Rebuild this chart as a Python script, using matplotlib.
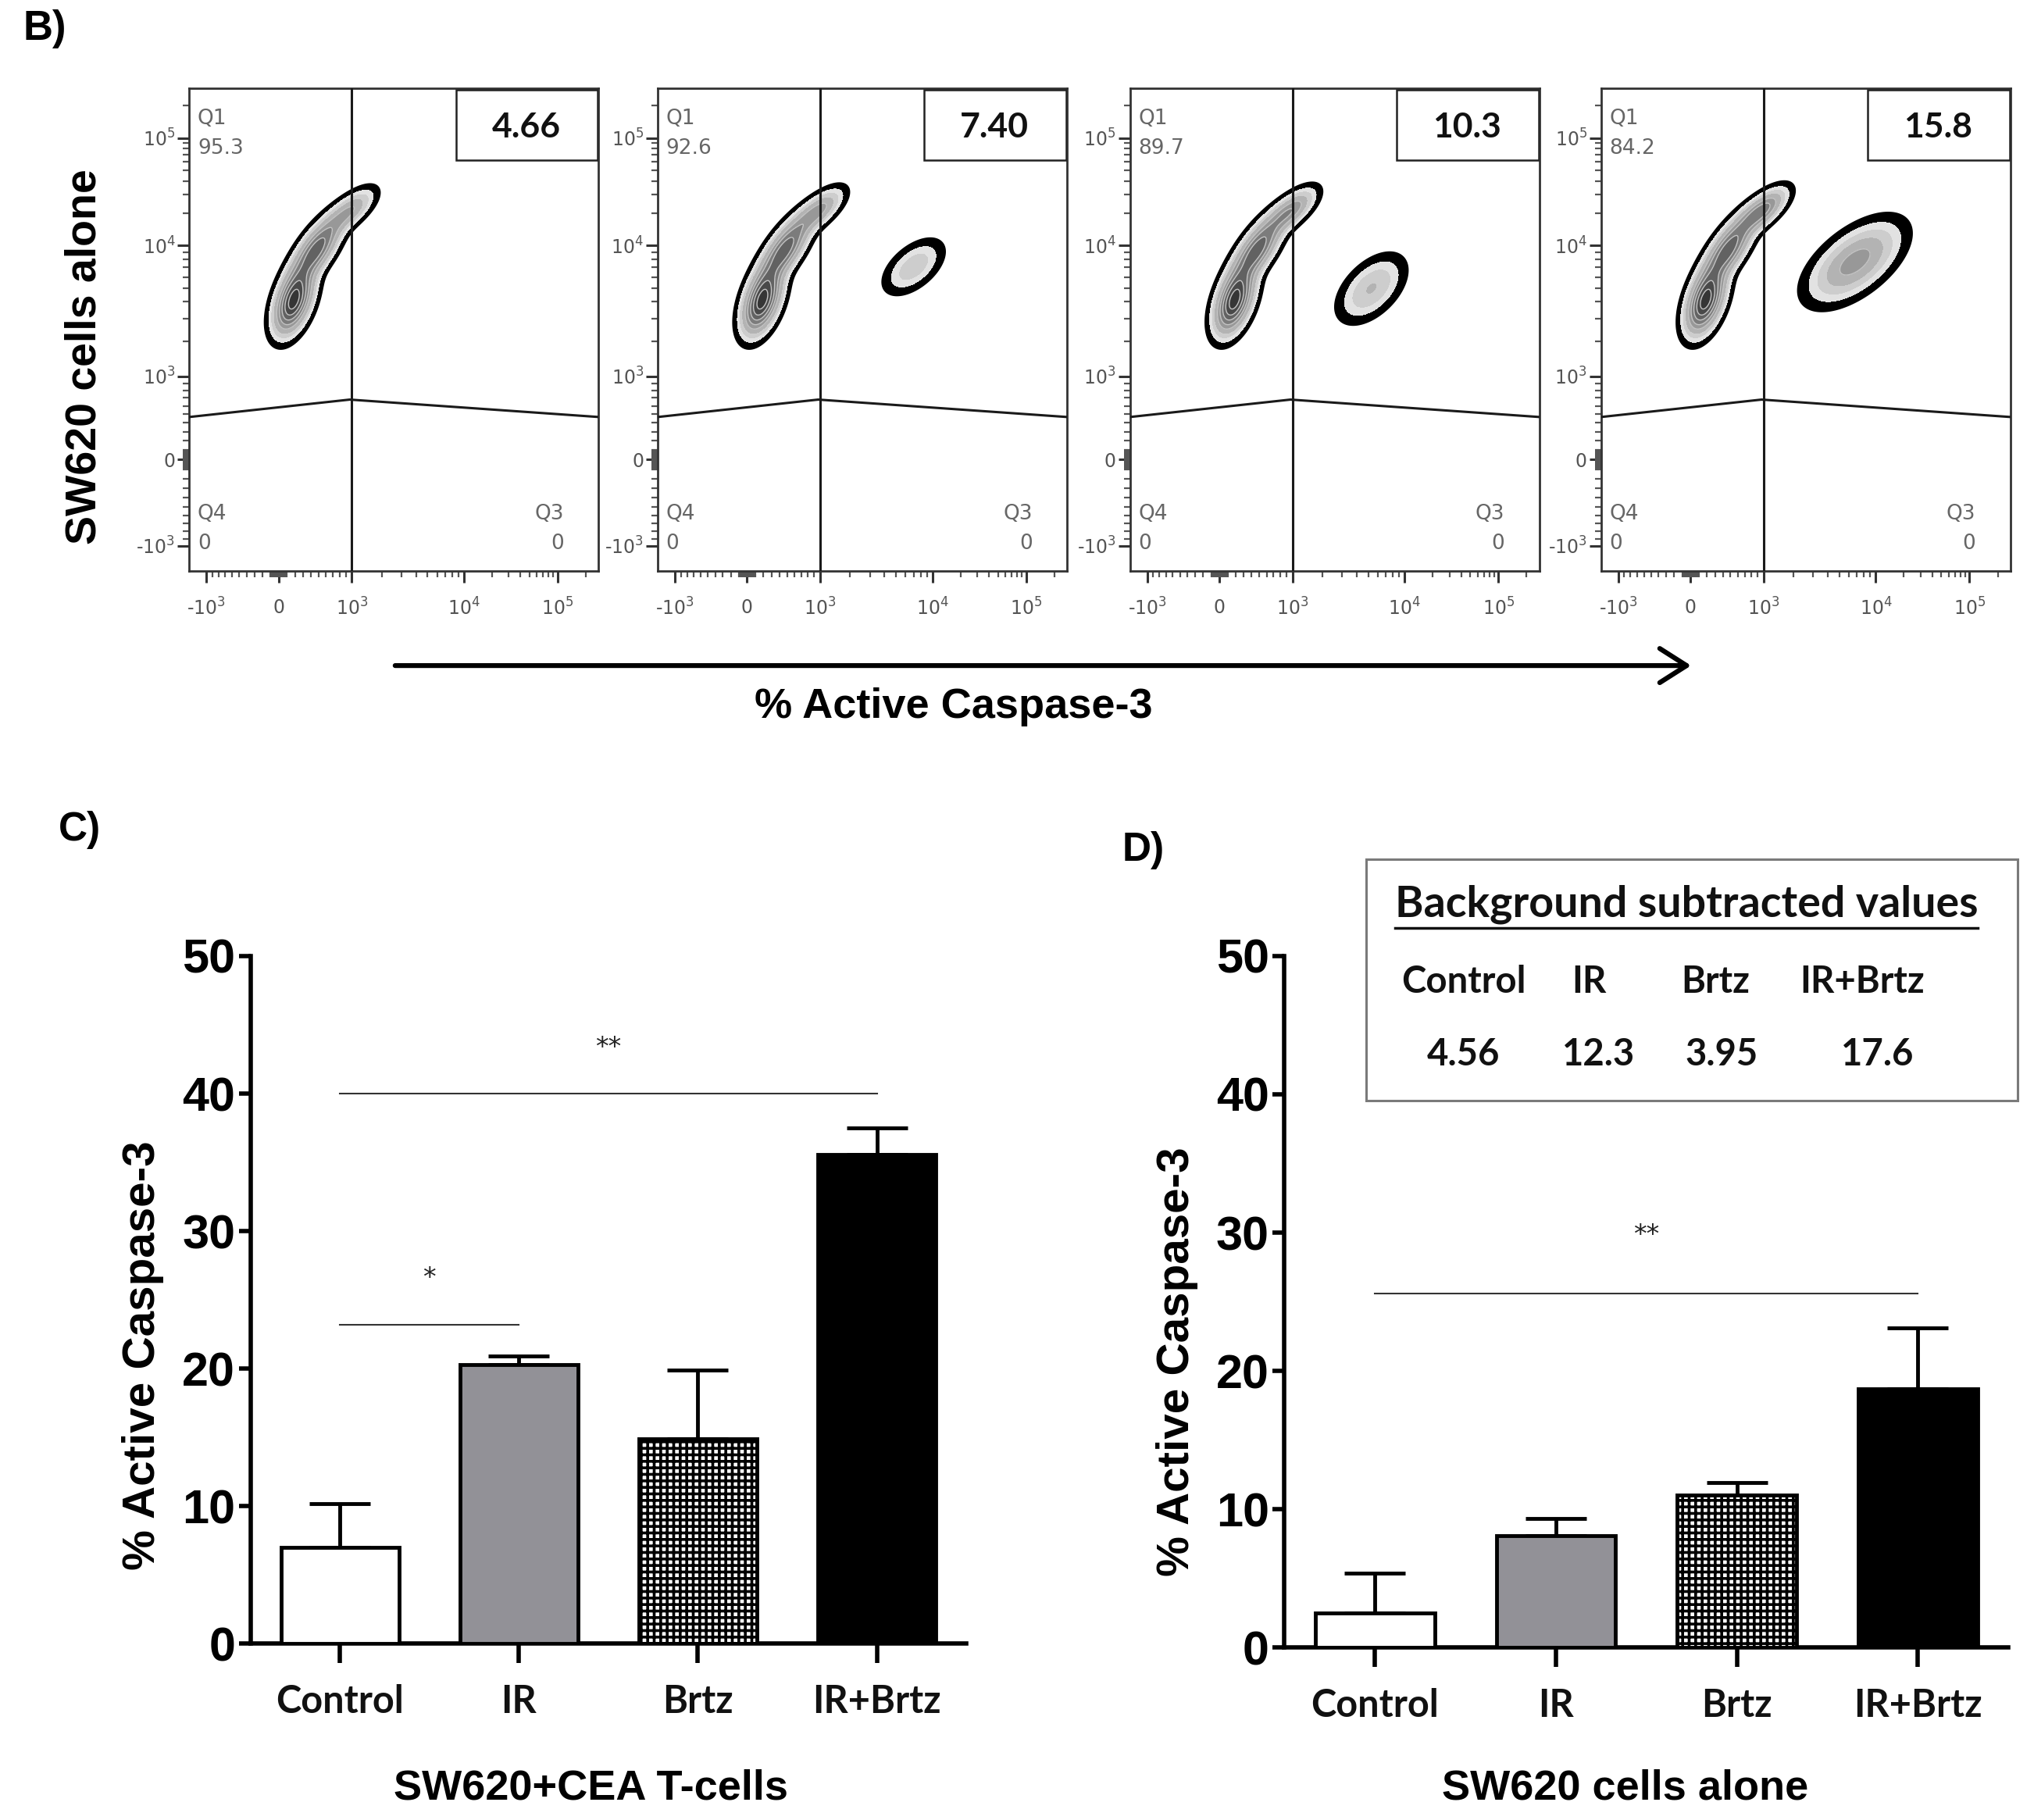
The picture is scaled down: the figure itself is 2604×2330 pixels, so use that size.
import numpy as np
import matplotlib
matplotlib.use('Agg')
import matplotlib.pyplot as plt
from matplotlib.patches import Rectangle, FancyArrowPatch
from matplotlib.lines import Line2D
from matplotlib.ticker import FixedLocator, FixedFormatter

# ---------------- data ----------------
groups = ['Control', 'IR', 'Brtz', 'IR+Brtz']

# panel C: SW620 + CEA T-cells
c_means = [7.0, 20.3, 14.9, 35.6]
c_err = [3.2, 0.6, 5.0, 1.9]
# panel D: SW620 cells alone
d_means = [2.5, 8.1, 11.0, 18.7]
d_err = [2.9, 1.2, 0.9, 4.4]

# significance bars: (from group, to group, line height, label, label height)
c_sig = [(0, 1, 23.2, '*', 26.6), (0, 3, 40.0, '**', 43.3)]
d_sig = [(0, 3, 25.6, '**', 29.8)]

bg_values = ['4.56', '12.3', '3.95', '17.6']

# flow panels (panel B)
q1_values = ['95.3', '92.6', '89.7', '84.2']
q2_values = ['4.66', '7.40', '10.3', '15.8']

# main population, three components along the curve (x, y in fluorescence units)
main_x = [183, 468, 954]
main_y = [4060, 9320, 20840]
main_major = [0.050, 0.052, 0.046]
main_minor = [0.024, 0.022, 0.019]
main_angle = [70, 55, 40]
main_weight = [1.0, 0.7, 0.35]
main_top_weight = [0.35, 0.40, 0.45, 0.55]

# caspase-3 positive population per panel (None for the first)
pos_x = [None, 7000, 5300, 6730]
pos_y = [None, 7080, 4950, 7660]
pos_major = [None, 0.052, 0.060, 0.080]
pos_minor = [None, 0.028, 0.034, 0.040]
pos_angle = [None, 40, 45, 38]
pos_weight = [None, 0.22, 0.25, 0.40]

# gate lines
gate_x_mid = 965
gate_y_end = 466
gate_y_mid = 679
gate_vertical = 1000

# axis anchors of the biexponential display
tick_vals = [-1e4, -1e3, 0, 1e3, 1e4, 1e5, 1e6]
x_tick_pos = [-0.208, 0.042, 0.218, 0.397, 0.671, 0.900, 1.129]
y_tick_pos = [-0.198, 0.052, 0.231, 0.403, 0.674, 0.897, 1.120]
COF = 1000.0

label_font = ['Liberation Sans', 'DejaVu Sans']
narrow_font = ['Liberation Sans Narrow', 'Liberation Sans', 'DejaVu Sans']
cat_font = ['Lato', 'DejaVu Sans']


def biex(pos):
    a = np.arcsinh(np.array(tick_vals) / COF)
    p = np.array(pos)

    def fwd(v):
        return np.interp(np.arcsinh(np.asarray(v, dtype=float) / COF), a, p)

    def inv(t):
        return COF * np.sinh(np.interp(np.asarray(t, dtype=float), p, a))
    return fwd, inv


def tick_label(v):
    if v == 0:
        return '0'
    e = int(round(np.log10(abs(v))))
    s = '$10^{%d}$' % e
    return '-' + s if v < 0 else s


major_vals = [-1e3, 0, 1e3, 1e4, 1e5]
minor_vals = []
for k in range(1, 10):
    minor_vals += [k * 10, -k * 10, k * 100, -k * 100]
for k in range(2, 10):
    minor_vals += [k * 1e3, k * 1e4]
minor_vals += [2e5, -2e3]

fig = plt.figure(figsize=(26.04, 23.30), dpi=100)

panel_left = [0.0931, 0.3234, 0.5556, 0.7872]
panel_w = 0.2012
panel_b = 0.6863
panel_h = 0.2652
aspect = (panel_h * 2330) / (panel_w * 2604)

xf, xi = biex(x_tick_pos)
yf, yi = biex(y_tick_pos)

u = np.linspace(0, 1, 600)
U, V = np.meshgrid(u, u)
XD = xi(U)
YD = yi(V)

levels = [0.05, 0.10, 0.16, 0.24, 0.34, 0.46, 0.60, 0.75, 0.90, 1.01]
fill_cols = ['black', '#e2e2e2', '#cdcdcd', '#b3b3b3', '#989898', '#7c7c7c',
             '#626262', '#494949', '#363636']

for i in range(4):
    ax = fig.add_axes([panel_left[i], panel_b, panel_w, panel_h])
    ax.set_xscale('function', functions=(xf, xi))
    ax.set_yscale('function', functions=(yf, yi))
    ax.set_xlim(xi(0), xi(1))
    ax.set_ylim(yi(0), yi(1))

    comps = []
    for j in range(3):
        w = main_weight[j] if j < 2 else main_top_weight[i]
        comps.append((main_x[j], main_y[j], main_major[j], main_minor[j],
                      main_angle[j], w))
    if pos_x[i] is not None:
        comps.append((pos_x[i], pos_y[i], pos_major[i], pos_minor[i],
                      pos_angle[i], pos_weight[i]))

    Z = np.zeros_like(U)
    for cx, cy, sa, sb, ang, w in comps:
        cu = xf(cx)
        cv = yf(cy)
        th = np.radians(ang)
        du = U - cu
        dv = (V - cv) * aspect
        a = du * np.cos(th) + dv * np.sin(th)
        b = -du * np.sin(th) + dv * np.cos(th)
        Z += w * np.exp(-0.5 * ((a / sa) ** 2 + (b / sb) ** 2))
    Z /= Z.max()

    ax.contourf(XD, YD, Z, levels=levels, colors=fill_cols, zorder=1)
    ax.contour(XD, YD, Z, levels=levels[4:-1], colors='#c4c4c4',
               linewidths=1.0, zorder=1)
    ax.contour(XD, YD, Z, levels=[levels[0]], colors='black',
               linewidths=3.0, zorder=2)

    x0, x1 = ax.get_xlim()
    ax.plot([x0, gate_x_mid, x1], [gate_y_end, gate_y_mid, gate_y_end],
            color='#1a1a1a', lw=2.2, zorder=3)
    ax.axvline(gate_vertical, color='#1a1a1a', lw=2.2, zorder=3)

    for sp in ax.spines.values():
        sp.set_linewidth(2.0)
        sp.set_color('#333333')

    for axis in (ax.xaxis, ax.yaxis):
        axis.set_major_locator(FixedLocator(major_vals))
        axis.set_major_formatter(FixedFormatter([tick_label(v) for v in major_vals]))
        axis.set_minor_locator(FixedLocator(minor_vals))
    ax.tick_params(which='major', direction='out', length=11, width=2.2,
                   color='#333333', labelcolor='#555555', labelsize=17)
    ax.tick_params(which='minor', direction='out', length=6, width=1.6,
                   color='#555555')
    ax.tick_params(axis='x', which='major', pad=14)
    ax.tick_params(axis='y', which='major', pad=2)

    qc = '#666666'
    ax.text(0.02, 0.958, 'Q1\n' + q1_values[i], transform=ax.transAxes,
            ha='left', va='top', fontsize=19, color=qc, linespacing=1.6)
    ax.text(0.02, 0.035, 'Q4\n0', transform=ax.transAxes,
            ha='left', va='bottom', fontsize=19, color=qc, linespacing=1.6)
    ax.text(0.915, 0.035, 'Q3\n0', transform=ax.transAxes, ha='right',
            va='bottom', fontsize=19, color=qc, linespacing=1.6,
            multialignment='right')
    ax.add_patch(Rectangle((0.651, 0.851), 0.347, 0.146, transform=ax.transAxes,
                           fill=False, edgecolor='#222222', lw=1.8, zorder=4))
    ax.text(0.823, 0.919, q2_values[i], transform=ax.transAxes, ha='center',
            va='center', fontsize=32, fontweight='bold', family=cat_font,
            color='#111111', zorder=5)

fig.text(0.0115, 0.9843, 'B)', fontsize=38, fontweight='bold', family=label_font,
         ha='left', va='center')
fig.text(0.0415, 0.804, 'SW620 cells alone', rotation=90, fontsize=40,
         fontweight='bold', family=label_font, ha='center', va='center')
fig.add_artist(FancyArrowPatch((0.1932, 0.6343), (0.8325, 0.6343),
                               transform=fig.transFigure,
                               arrowstyle='->,head_length=0.55,head_width=0.35',
                               mutation_scale=45, lw=4.5, color='black'))
fig.text(0.4689, 0.6116, '% Active Caspase-3', fontsize=39, fontweight='bold',
         family=label_font, ha='center', va='center')

# ---------------- bar charts ----------------
bar_colors = ['white', '#929197', 'white', 'black']
bar_hatches = [None, None, '++', None]
plt.rcParams['hatch.linewidth'] = 2.6


def bar_panel(ax, means, errs, sigs, xlabel, lab_xy):
    x = np.arange(len(groups))
    bars = ax.bar(x, means, width=0.66, color=bar_colors, edgecolor='black',
                  linewidth=3.5, zorder=3)
    for p, h in zip(bars, bar_hatches):
        if h:
            p.set_hatch(h)
    ax.errorbar(x, means, yerr=[np.zeros(len(errs)), errs], fmt='none',
                ecolor='black', elinewidth=3.5, capsize=28, capthick=3.5,
                zorder=2)
    for g0, g1, yl, txt, yt in sigs:
        ax.plot([g0, g1], [yl, yl], color='#333333', lw=1.5)
        ax.text((g0 + g1) / 2, yt, txt, ha='center', va='center', fontsize=24,
                color='#222222')
    ax.set_xlim(-0.5, 3.5)
    ax.set_ylim(0, 50)
    ax.set_yticks([0, 10, 20, 30, 40, 50])
    ax.set_xticks(x)
    ax.set_xticklabels(groups)
    for s in ['top', 'right']:
        ax.spines[s].set_visible(False)
    for s in ['left', 'bottom']:
        ax.spines[s].set_linewidth(4)
    ax.tick_params(axis='y', length=11, width=4, pad=3, labelsize=44)
    ax.tick_params(axis='x', length=18, width=4, pad=19, labelsize=35)
    for t in ax.get_yticklabels():
        t.set_family(narrow_font)
        t.set_fontweight('bold')
    for t in ax.get_xticklabels():
        t.set_family(cat_font)
        t.set_fontweight('bold')
        t.set_color('#111111')
    ax.set_ylabel('% Active Caspase-3', fontsize=42, fontweight='bold',
                  family=label_font, va='center')
    ax.yaxis.set_label_coords(lab_xy[0], lab_xy[1])
    ax.set_xlabel(xlabel, fontsize=39, fontweight='bold', family=label_font,
                  va='center')
    ax.xaxis.set_label_coords(lab_xy[2], lab_xy[3])


axC = fig.add_axes([0.1231, 0.0968, 0.3520, 0.3779])
bar_panel(axC, c_means, c_err, c_sig, 'SW620+CEA T-cells', (-0.150, 0.419, 0.476, -0.210))
axD = fig.add_axes([0.6315, 0.0948, 0.3559, 0.3799])
bar_panel(axD, d_means, d_err, d_sig, 'SW620 cells alone', (-0.148, 0.413, 0.471, -0.204))

fig.text(0.0288, 0.5438, 'C)', fontsize=37, fontweight='bold', family=label_font,
         ha='left', va='center')
fig.text(0.5518, 0.533, 'D)', fontsize=37, fontweight='bold', family=label_font,
         ha='left', va='center')

# inset with background subtracted values
fig.add_artist(Rectangle((0.6717, 0.3953), 0.3203, 0.1326, transform=fig.transFigure,
                         fill=False, edgecolor='#7a7a7a', lw=2.2))
title = fig.text(0.8292, 0.5030, 'Background subtracted values', fontsize=40,
                 fontweight='bold', family=cat_font, ha='center', va='center',
                 color='#111111')
inset_lab_x = [0.7195, 0.7814, 0.8433, 0.9154]
inset_val_x = [0.7195, 0.7858, 0.8464, 0.9230]
for k in range(len(groups)):
    fig.text(inset_lab_x[k], 0.4604, groups[k], fontsize=34, fontweight='bold',
             family=cat_font, ha='center', va='center', color='#111111')
    fig.text(inset_val_x[k], 0.4205, bg_values[k], fontsize=34, fontweight='bold',
             family=cat_font, ha='center', va='center', color='#111111')

fig.canvas.draw()
bb = title.get_window_extent().transformed(fig.transFigure.inverted())
fig.add_artist(Line2D([bb.x0, bb.x1], [bb.y0 - 0.002, bb.y0 - 0.002],
                      transform=fig.transFigure, color='#111111', lw=2.5))

fig.savefig('out.png', dpi=100)
